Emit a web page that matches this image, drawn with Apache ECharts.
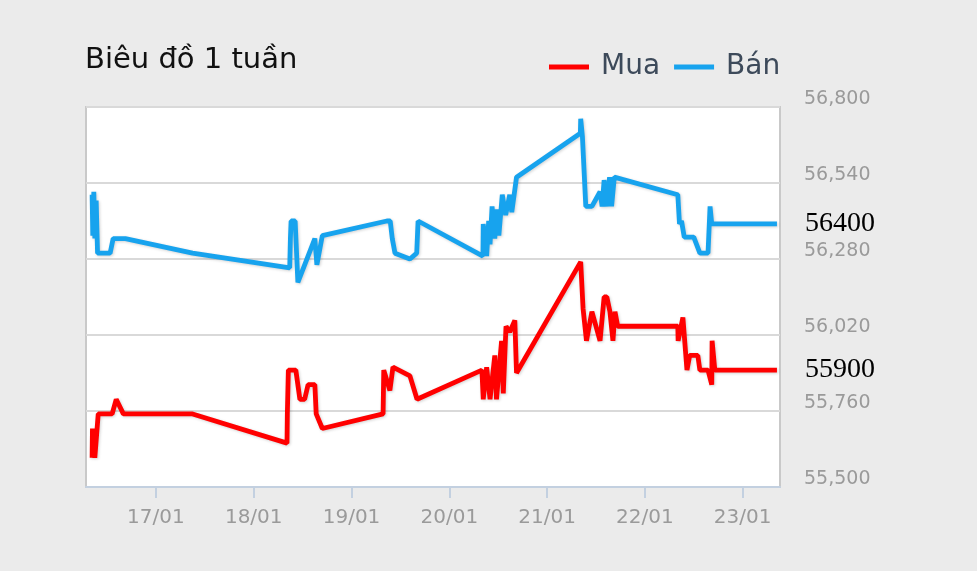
<!DOCTYPE html>
<html>
<head>
<meta charset="utf-8">
<script src="https://cdn.jsdelivr.net/npm/echarts@6/dist/echarts.min.js"></script>
<style>
html,body{margin:0;padding:0;background:#ebebeb;}
#c{width:977px;height:571px;}
</style>
</head>
<body>
<div id="c"></div>
<script>
const titleText = 'Biêu đồ 1 tuần';
const seriesNames = ['Mua', 'Bán'];
const year = 2024;

const muaTime = ['16/01 08:20','16/01 08:25','16/01 08:50','16/01 09:00','16/01 09:30','16/01 09:50','16/01 13:15','16/01 14:15','16/01 16:00','17/01 09:00',
  '18/01 08:10','18/01 08:15','18/01 08:30','18/01 10:20','18/01 11:20','18/01 12:30','18/01 13:20','18/01 15:00','18/01 15:20','18/01 16:50',
  '19/01 07:45','19/01 07:55','19/01 09:25','19/01 10:10','19/01 14:20','19/01 16:05',
  '20/01 08:00','20/01 08:20','20/01 09:10','20/01 10:00','20/01 11:10','20/01 11:35','20/01 12:50','20/01 13:15','20/01 13:55','20/01 14:50','20/01 16:05','20/01 16:30',
  '21/01 08:15','21/01 08:50','21/01 09:40','21/01 11:00','21/01 13:00','21/01 14:00','21/01 14:40','21/01 15:25','21/01 16:10','21/01 16:40','21/01 17:20',
  '22/01 08:05','22/01 08:10','22/01 09:20','22/01 10:20','22/01 11:00','22/01 13:00','22/01 13:30','22/01 15:30','22/01 16:25','22/01 16:30','22/01 17:10',
  '23/01 08:25'];
const muaValue = [55600,55700,55700,55600,55690,55750,55750,55800,55750,55750,
  55650,55750,55900,55900,55800,55800,55850,55850,55750,55700,
  55750,55900,55830,55910,55880,55800,
  55900,55800,55910,55800,55950,55800,56000,55820,56050,56030,56070,55890,
  56270,56110,56000,56100,56000,56150,56150,56100,56000,56100,56050,
  56050,56000,56080,55900,55950,55950,55900,55900,55850,56000,55900,
  55900];

const banTime = ['16/01 08:20','16/01 08:30','16/01 08:45','16/01 09:00','16/01 09:20','16/01 09:40','16/01 12:45','16/01 13:30','16/01 16:30','17/01 09:00',
  '18/01 08:50','18/01 09:00','18/01 09:10','18/01 10:10','18/01 10:50','18/01 15:00','18/01 15:30','18/01 16:50',
  '19/01 08:40','19/01 09:30','19/01 10:00','19/01 10:40','19/01 14:20','19/01 16:00','19/01 16:20',
  '20/01 08:15','20/01 08:20','20/01 09:10','20/01 09:40','20/01 10:00','20/01 10:30','20/01 11:10','20/01 11:40','20/01 12:10','20/01 13:00','20/01 13:50','20/01 14:50','20/01 15:20','20/01 16:30',
  '21/01 08:10','21/01 08:15','21/01 08:40','21/01 09:30','21/01 11:00','21/01 13:00','21/01 13:30','21/01 14:00','21/01 14:40','21/01 15:20','21/01 15:50','21/01 16:30',
  '22/01 08:05','22/01 08:30','22/01 09:00','22/01 09:40','22/01 12:00','22/01 13:30','22/01 15:30','22/01 16:00','22/01 16:25',
  '23/01 08:25'];
const banValue = [56500,56360,56510,56350,56480,56300,56300,56350,56350,56300,
  56250,56350,56410,56410,56200,56350,56260,56360,
  56410,56410,56350,56300,56280,56300,56410,
  56290,56400,56290,56410,56330,56460,56350,56450,56360,56500,56430,56500,56440,56560,
  56710,56760,56700,56460,56460,56510,56460,56550,56460,56560,56460,56560,
  56500,56400,56410,56355,56355,56300,56300,56460,56400,
  56400];

const xTickLabels = ['17/01','18/01','19/01','20/01','21/01','22/01','23/01'];
const xRange = ['16/01 06:50', '23/01 09:10'];
const yMin = 55500, yMax = 56800, yStep = 260;

function toTs(s) {
  const [d, t] = s.split(' ');
  const [dd, mm] = d.split('/').map(Number);
  const [hh, mi] = (t || '00:00').split(':').map(Number);
  return new Date(year, mm - 1, dd, hh, mi).getTime();
}
function pairs(times, vals) { return times.map((t, i) => [toTs(t), vals[i]]); }
const tickTs = xTickLabels.map(toTs);
const fmtComma = v => String(v).replace(/\B(?=(\d{3})+(?!\d))/g, ',');

const FONT = 'DejaVu Sans';
const RED = '#ff0000', BLUE = '#17a3ee';

const chart = echarts.init(document.getElementById('c'));
const lineShadow = { shadowColor: 'rgba(0,0,0,0.18)', shadowBlur: 3, shadowOffsetX: 1, shadowOffsetY: 1 };
chart.setOption({
  backgroundColor: '#ebebeb',
  animation: false,
  title: {
    text: titleText, left: 80, top: 41,
    textStyle: { fontFamily: FONT, fontSize: 29, fontWeight: 'normal', color: '#111' }
  },
  legend: {
    left: 544, top: 48, itemWidth: 40, itemHeight: 5, itemGap: 14, icon: 'rect',
    data: seriesNames,
    textStyle: { fontFamily: FONT, fontSize: 28, color: '#3d4a5a', padding: [0, 0, 0, 7] }
  },
  grid: {
    left: 86, right: 197, top: 107, bottom: 84,
    show: true, backgroundColor: '#ffffff', borderColor: '#c9c9c9', borderWidth: 2
  },
  xAxis: {
    type: 'value',
    min: toTs(xRange[0]), max: toTs(xRange[1]),
    axisLine: { show: true, lineStyle: { color: '#c3d0e0', width: 2 } },
    axisTick: { show: true, customValues: tickTs, length: 11, lineStyle: { color: '#c3d0e0', width: 2 } },
    axisLabel: {
      customValues: tickTs, margin: 21,
      fontFamily: FONT, fontSize: 20, color: '#9a9a9a',
      formatter: v => { const i = tickTs.indexOf(+v); return i >= 0 ? xTickLabels[i] : ''; }
    },
    splitLine: { show: false }
  },
  yAxis: {
    type: 'value', position: 'right',
    min: yMin, max: yMax, interval: yStep,
    axisLine: { show: false }, axisTick: { show: false },
    axisLabel: {
      margin: 24, fontFamily: FONT, fontSize: 19, color: '#9a9a9a', verticalAlign: 'bottom',
      lineHeight: 16,
      formatter: v => fmtComma(v)
    },
    splitLine: { show: true, lineStyle: { color: '#d9d9d9', width: 2 } }
  },
  series: [
    {
      name: seriesNames[0], type: 'line', data: pairs(muaTime, muaValue),
      symbol: 'none', color: RED,
      lineStyle: Object.assign({ width: 4.8, color: RED }, lineShadow),
      endLabel: { show: true, distance: 28, fontFamily: 'Liberation Serif', fontSize: 28, color: '#000',
        formatter: p => String(p.value[1]) }
    },
    {
      name: seriesNames[1], type: 'line', data: pairs(banTime, banValue),
      symbol: 'none', color: BLUE,
      lineStyle: Object.assign({ width: 4.8, color: BLUE }, lineShadow),
      endLabel: { show: true, distance: 28, fontFamily: 'Liberation Serif', fontSize: 28, color: '#000',
        formatter: p => String(p.value[1]) }
    }
  ]
});
</script>
</body>
</html>
